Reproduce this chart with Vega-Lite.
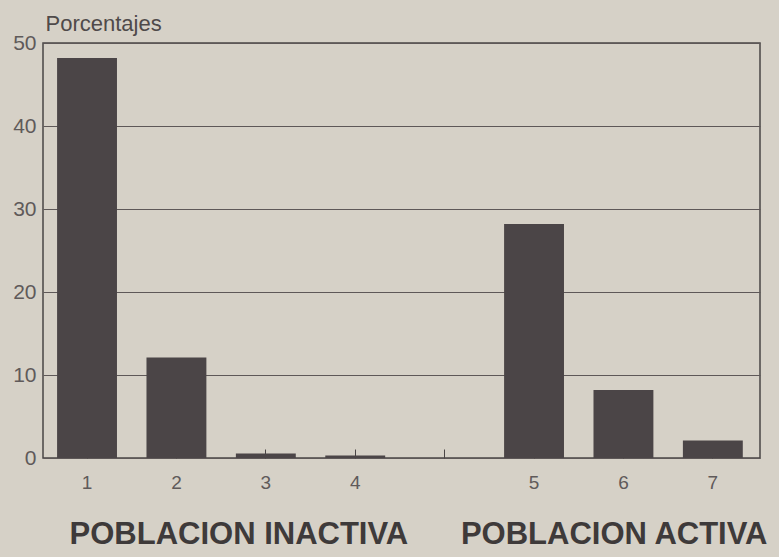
{
  "$schema": "https://vega.github.io/schema/vega-lite/v6.json",
  "width": 717,
  "height": 415,
  "autosize": {"type": "none"},
  "padding": {"left": 43, "top": 43, "right": 19, "bottom": 99},
  "background": "#d6d1c7",
  "config": {
    "view": {"stroke": "#4a4545", "strokeWidth": 1.5},
    "axis": {"labelFont": "Liberation Sans", "labelColor": "#5f5a5a", "domain": false}
  },
  "data": {
    "values": [
      {"grupo": "1", "porcentaje": 48.2},
      {"grupo": "2", "porcentaje": 12.1},
      {"grupo": "3", "porcentaje": 0.55},
      {"grupo": "4", "porcentaje": 0.3},
      {"grupo": "5", "porcentaje": 28.2},
      {"grupo": "6", "porcentaje": 8.2},
      {"grupo": "7", "porcentaje": 2.1}
    ]
  },
  "mark": {"type": "bar", "color": "#4b4547"},
  "encoding": {
    "x": {
      "field": "grupo",
      "type": "nominal",
      "sort": null,
      "scale": {
        "domain": ["1", "2", "3", "4", " ", "5", "6", "7"],
        "paddingInner": 0.33,
        "paddingOuter": 0.175,
        "align": 0.45
      },
      "axis": {
        "labelAngle": 0,
        "labelFontSize": 19,
        "labelPadding": 24,
        "ticks": true,
        "tickSize": -9,
        "tickColor": "#4a4545",
        "tickWidth": 1,
        "title": "POBLACION INACTIVA\u2003\u2002\u2009POBLACION ACTIVA",
        "titleFont": "Liberation Sans",
        "titleFontSize": 31,
        "titleFontWeight": "bold",
        "titleColor": "#3e3a3a",
        "titlePadding": 27,
        "titleX": 375
      }
    },
    "y": {
      "field": "porcentaje",
      "type": "quantitative",
      "scale": {"domain": [0, 50]},
      "axis": {
        "values": [0, 10, 20, 30, 40, 50],
        "labelFontSize": 21,
        "labelPadding": 7,
        "ticks": false,
        "grid": true,
        "gridColor": "#5e5858",
        "gridWidth": 1,
        "title": "Porcentajes",
        "titleFont": "Liberation Sans",
        "titleFontSize": 22,
        "titleFontWeight": "normal",
        "titleColor": "#4f4a4a",
        "titleAngle": 0,
        "titleAlign": "left",
        "titleBaseline": "alphabetic",
        "titleX": 2,
        "titleY": -13
      }
    }
  }
}
